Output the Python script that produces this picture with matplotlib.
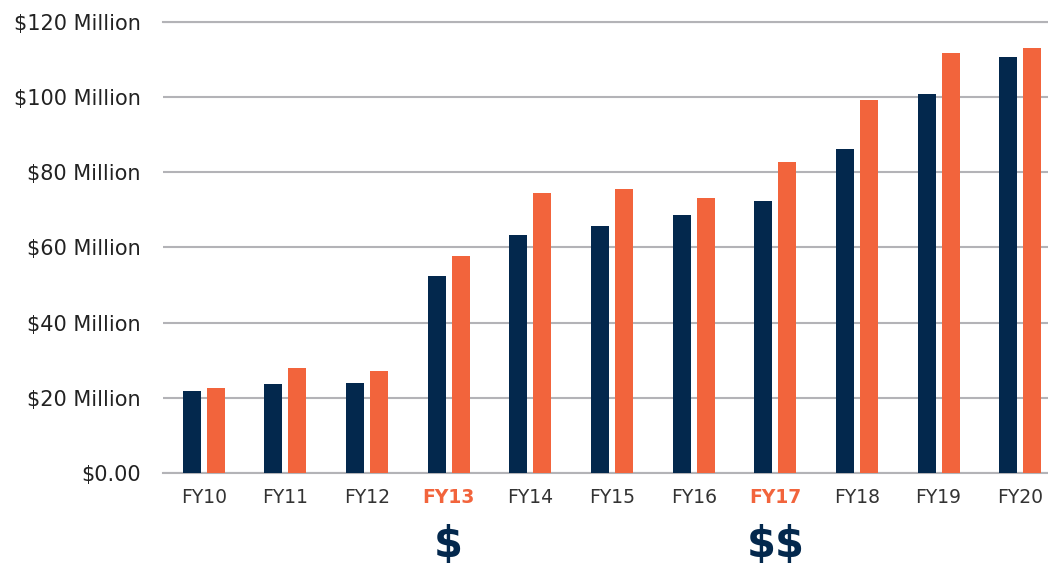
import numpy as np
import matplotlib.pyplot as plt

years = ['FY10', 'FY11', 'FY12', 'FY13', 'FY14', 'FY15', 'FY16', 'FY17', 'FY18', 'FY19', 'FY20']
navy_vals = [21.8, 23.7, 23.9, 52.4, 63.3, 65.7, 68.6, 72.3, 86.2, 100.8, 110.6]
orange_vals = [22.6, 27.9, 27.1, 57.7, 74.5, 75.5, 73.1, 82.7, 99.2, 111.7, 113.0]
yticks = [0, 20, 40, 60, 80, 100, 120]
ytick_labels = ['$0.00', '$20 Million', '$40 Million', '$60 Million', '$80 Million', '$100 Million', '$120 Million']
highlight = {'FY13': '$', 'FY17': '$$'}

navy = '#03284d'
orange = '#f2643c'
grid_c = '#b3b3b7'

plt.rcParams['font.family'] = ['DejaVu Sans']
plt.rcParams['text.parse_math'] = False

fig = plt.figure(figsize=(10.48, 5.68), dpi=100)
ax = fig.add_axes([0.1555, 0.1673, 0.8445, 0.794])

x = np.arange(len(years))
w = 0.22
off = 0.147
ax.bar(x - off, navy_vals, w, color=navy, zorder=3)
ax.bar(x + off, orange_vals, w, color=orange, zorder=3)

ax.set_xlim(-0.5, 10.34)
ax.set_ylim(0, 120)
ax.set_yticks(yticks)
ax.set_yticklabels(ytick_labels, fontsize=15, color='#222222')
ax.set_xticks(x)
ax.set_xticklabels(years, fontsize=13.5, color='#333333')
ax.tick_params(axis='y', length=0, pad=16)
ax.tick_params(axis='x', length=0, pad=11)
for i, lab in enumerate(ax.get_xticklabels()):
	if years[i] in highlight:
		lab.set_color(orange)
		lab.set_fontweight('bold')
		ax.text(i, -0.16, highlight[years[i]], transform=ax.get_xaxis_transform(),
			ha='center', va='center', fontsize=30, fontweight='bold', color=navy, clip_on=False)

ax.yaxis.grid(True, color=grid_c, linewidth=1.5, zorder=0)
ax.axhline(120, color=grid_c, linewidth=1.5, zorder=0, clip_on=False)
for s in ['top', 'right', 'left']:
	ax.spines[s].set_visible(False)
ax.spines['bottom'].set_color(grid_c)
ax.spines['bottom'].set_linewidth(1.5)

fig.savefig('out.png', dpi=100)
